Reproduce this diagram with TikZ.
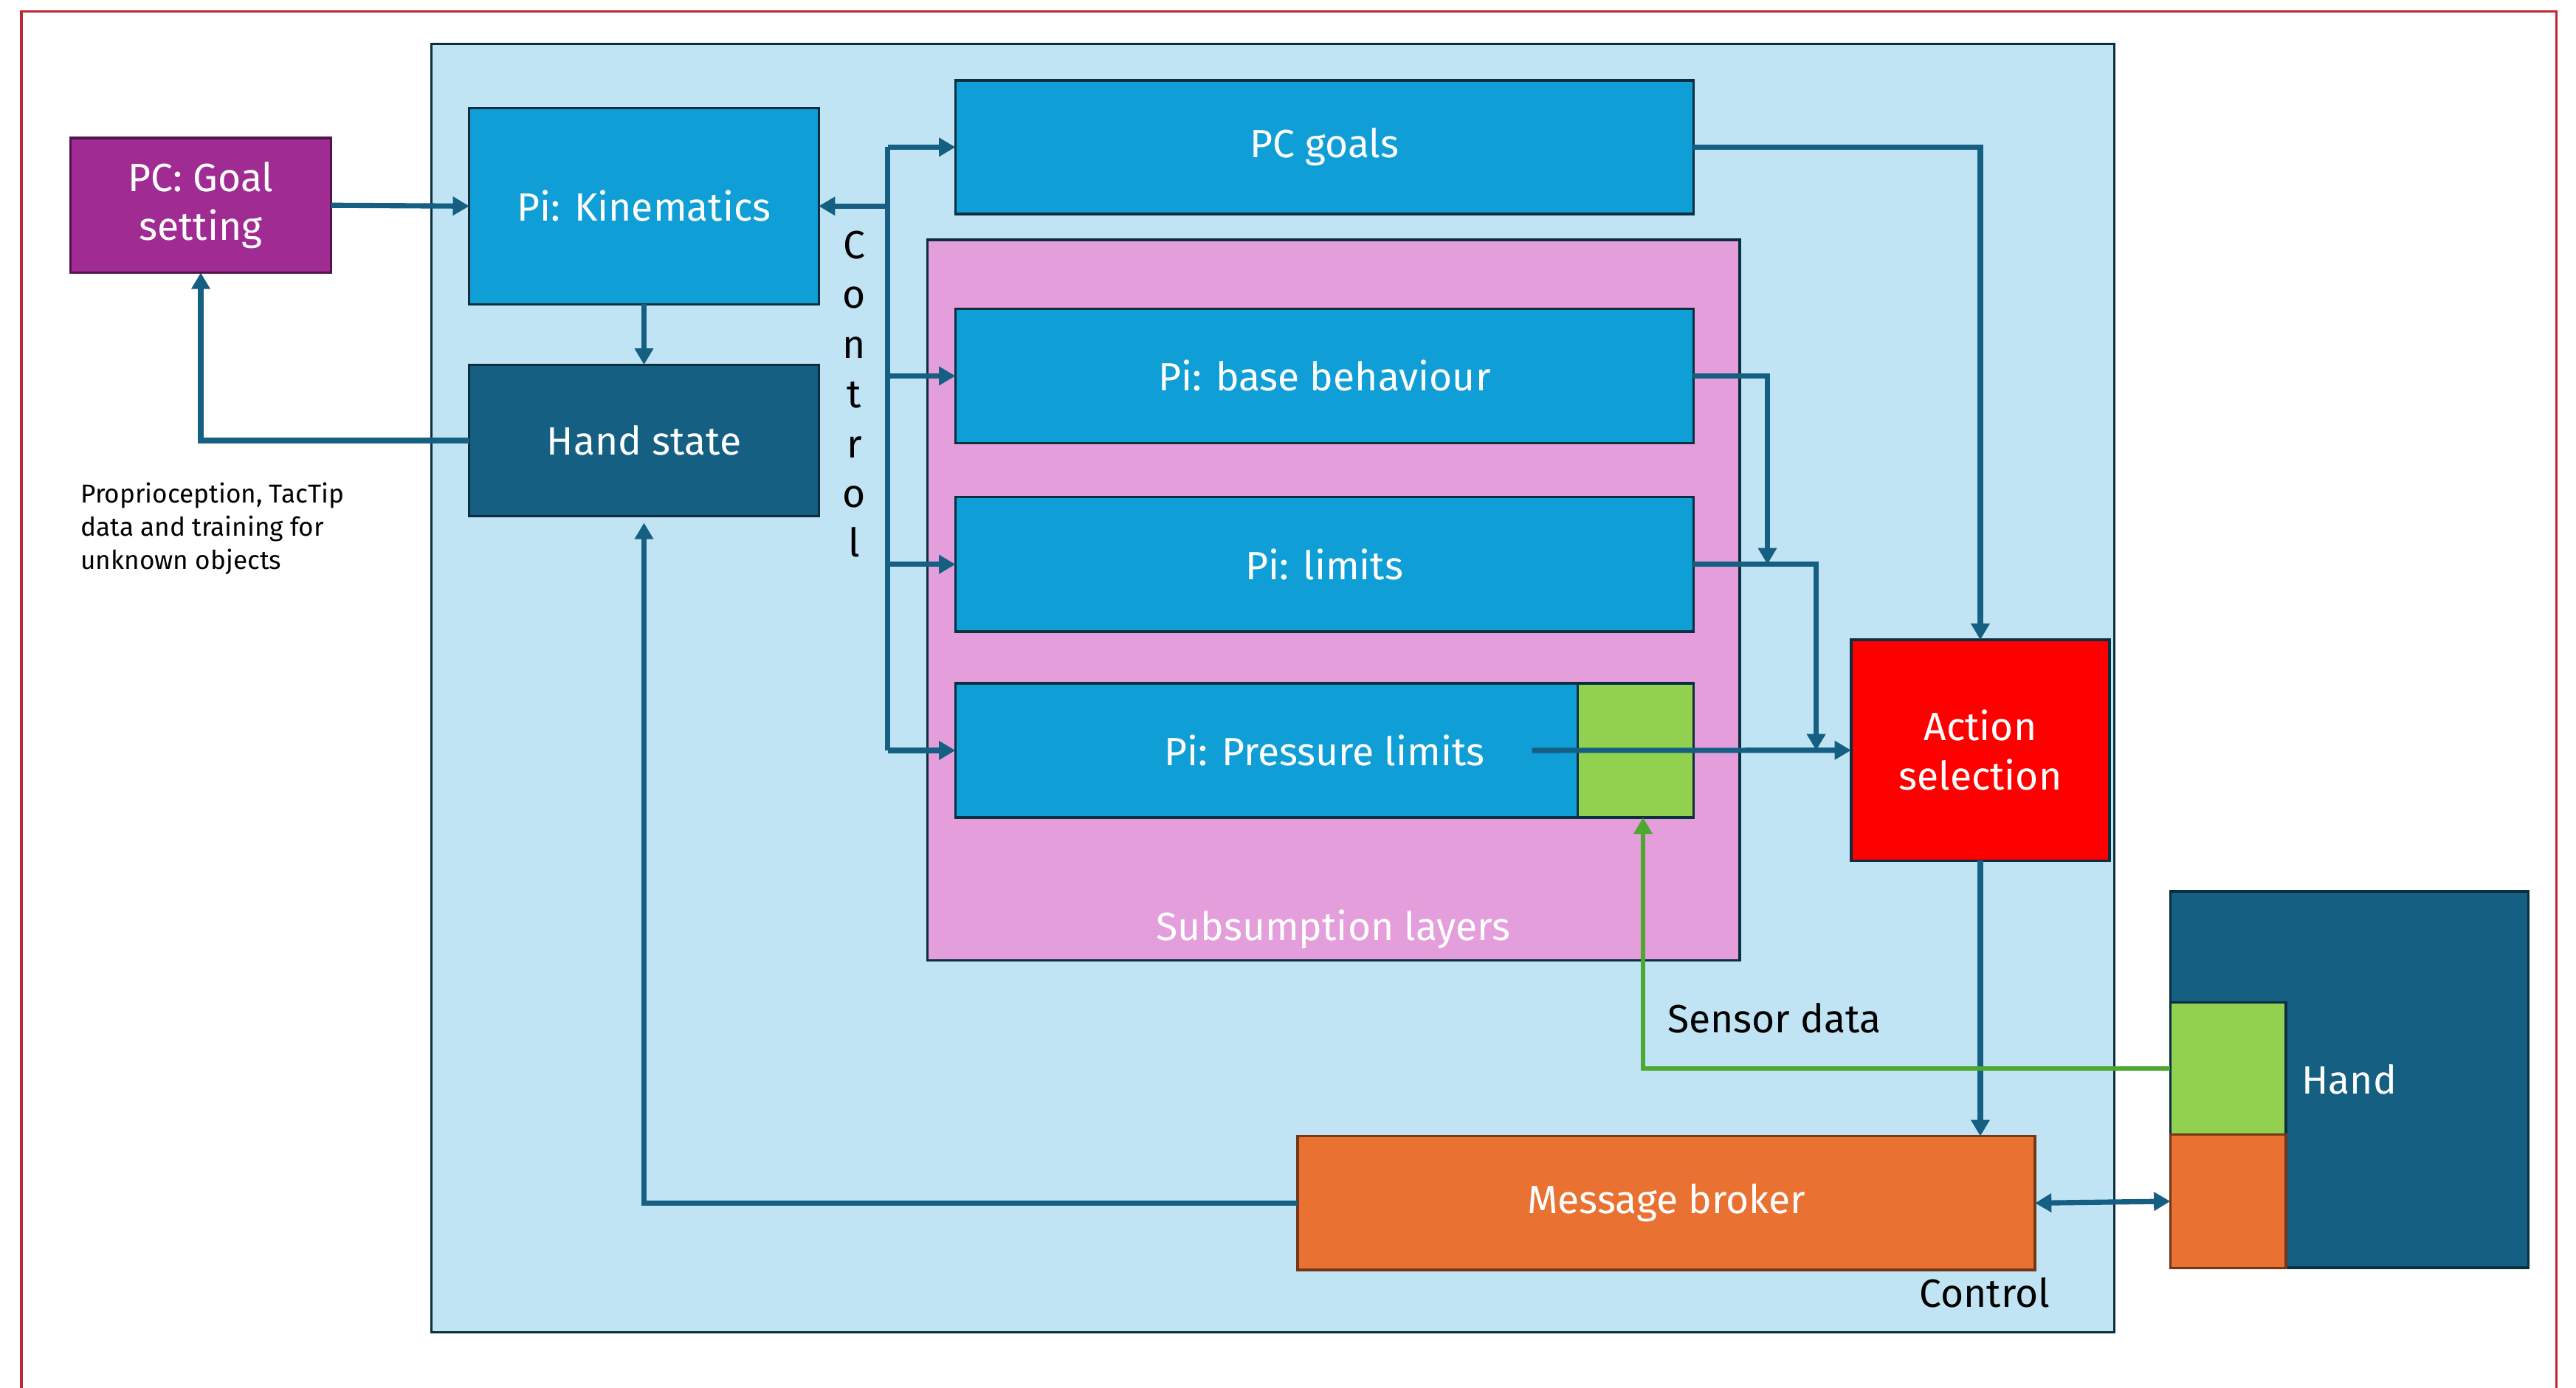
\documentclass[tikz,border=0pt]{standalone}
\usepackage{fontspec}
\setmainfont{Fira Sans}
\usetikzlibrary{arrows.meta}
\definecolor{navy}{HTML}{0A2F41}
\definecolor{ctrlfill}{HTML}{C1E4F5}
\definecolor{bluebox}{HTML}{0F9ED5}
\definecolor{darkblue}{HTML}{156082}
\definecolor{purp}{HTML}{A02B93}
\definecolor{purpdark}{HTML}{501549}
\definecolor{pinkfill}{HTML}{E39EDB}
\definecolor{greenfill}{HTML}{92D050}
\definecolor{greenline}{HTML}{4EA72E}
\definecolor{orangefill}{HTML}{E97132}
\definecolor{orangedark}{HTML}{743819}
\definecolor{redborder}{RGB}{192,39,52}
\begin{document}
\begin{tikzpicture}[x=1pt,y=-1pt,
  box/.style={draw=navy, line width=1.5pt, inner sep=0pt, outer sep=0pt, text=white,
    font=\fontsize{24}{30}\selectfont, align=center},
  conn/.style={draw=darkblue, line width=3.2pt, -{Triangle[length=10pt,width=11pt]}},
  plain/.style={draw=darkblue, line width=3.2pt},
  gconn/.style={draw=greenline, line width=2.8pt, -{Triangle[length=10pt,width=11pt]}},
  lbl/.style={inner sep=0pt, font=\fontsize{24}{30}\selectfont}]
\useasboundingbox (0,0) rectangle (1568,845);
% outer red frame
\draw[redborder, line width=1.5pt] (13,850) -- (13,7) -- (1556,7) -- (1556,850);
% big control area
\node[box, fill=ctrlfill, minimum width=1024.4pt, minimum height=784.4pt] (ctrl) at (774.8,419) {};
\node[box, fill=pinkfill, minimum width=494.6pt, minimum height=438.6pt] (sub) at (811.7,365.3) {};
% boxes
\node[box, draw=purpdark, fill=purp, minimum width=158.8pt, minimum height=82pt] (pcgoal) at (122.2,125) {PC: Goal\\setting};
\node[box, fill=bluebox, minimum width=212.7pt, minimum height=119.4pt] (kin) at (392,125.5) {Pi: Kinematics};
\node[box, fill=darkblue, minimum width=212.7pt, minimum height=92.2pt] (hs) at (392,268.2) {Hand state};
\node[box, fill=bluebox, minimum width=449.3pt, minimum height=81.3pt] (pcg) at (806.2,89.6) {PC goals};
\node[box, fill=bluebox, minimum width=449.3pt, minimum height=82pt] (base) at (806.2,228.9) {Pi: base behaviour};
\node[box, fill=bluebox, minimum width=449.3pt, minimum height=82pt] (lim) at (806.2,343.6) {Pi: limits};
\node[box, fill=bluebox, minimum width=449.3pt, minimum height=81.7pt] (pres) at (806.2,456.9) {Pi: Pressure limits};
\node[box, fill=greenfill, minimum width=70.6pt, minimum height=81.7pt] (presg) at (995.6,456.9) {};
\node[box, fill=red, minimum width=157.3pt, minimum height=134.4pt] (act) at (1205.4,456.8) {Action\\selection};
\node[box, fill=darkblue, minimum width=218pt, minimum height=229.2pt] (hand) at (1430,657.3) {Hand};
\node[box, fill=greenfill, minimum width=70.3pt, minimum height=80.5pt] (handg) at (1356.2,650.6) {};
\node[box, draw=orangedark, fill=orangefill, minimum width=70.3pt, minimum height=81.1pt] (hando) at (1356.2,731.4) {};
\node[box, draw=orangedark, fill=orangefill, minimum width=448.8pt, minimum height=81.4pt] (mb) at (1014.3,732.5) {Message broker};
% labels
\node[lbl, text=white] (sublbl) at (811.5,566) {Subsumption layers};
\node[lbl] (sensorlbl) at (1080,620) {Sensor data};
\node[lbl] (ctrllbl) at (1208,787) {Control};
\node[lbl, align=center, font=\fontsize{24}{30.3}\selectfont] (vctrl) at (520,240) {C\\o\\n\\t\\r\\o\\l};
\node[lbl, anchor=west, align=left, font=\fontsize{15.8}{20.2}\selectfont] (note) at (49,322) {Proprioception, TacTip\\data and training for\\unknown objects};
% coordinates
\coordinate (bus) at (540.3,0);
\coordinate (lim6) at (1075.8,343.6);
\coordinate (pl7) at (1105.5,456.9);
\coordinate (pstart) at (932.5,456.9);
% connectors
\draw[conn] (pcgoal.east) -- (kin.west);
\draw[conn] (hs.west) -| (pcgoal.south);
\draw[conn] (kin.south) -- (hs.north);
\draw[plain] (bus |- pcg.west) -- (bus |- pres.west);
\draw[conn] (bus |- pcg.west) -- (pcg.west);
\draw[conn] (bus |- kin.east) -- (kin.east);
\draw[conn] (bus |- base.west) -- (base.west);
\draw[conn] (bus |- lim.west) -- (lim.west);
\draw[conn] (bus |- pres.west) -- (pres.west);
\draw[conn] (pcg.east) -| (act.north);
\draw[conn] (base.east) -| (lim6);
\draw[conn] (lim.east) -| (pl7);
\draw[conn] (pstart) -- (act.west);
\draw[conn] (act.south) -- (act.south |- mb.north);
\draw[gconn] (handg.west) -| ([xshift=4.5pt]presg.south);
\draw[conn, shorten >=4pt] (mb.west) -| (hs.south);
\draw[conn, {Triangle[length=10pt,width=11pt]}-{Triangle[length=10pt,width=11pt]}] (mb.east) -- (hando.west);
\end{tikzpicture}
\end{document}
